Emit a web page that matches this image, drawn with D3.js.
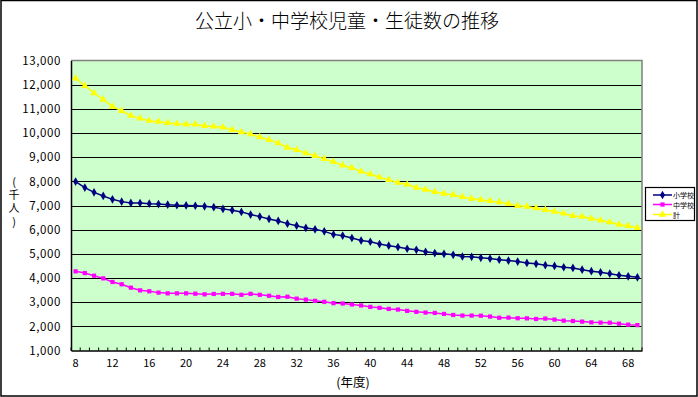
<!DOCTYPE html>
<html>
<head>
<meta charset="utf-8">
<script src="https://cdn.jsdelivr.net/npm/d3@7/dist/d3.min.js"></script>
<style>
  body { margin: 0; background: #fff; }
  svg { display: block; }
  text { font-family: "Noto Sans CJK JP", "Noto Sans", sans-serif; }
</style>
</head>
<body>
<div id="chart"></div>
<script>
// 年度 8..69
const years = d3.range(8, 70);
const xTickLabels = [8, 12, 16, 20, 24, 28, 32, 36, 40, 44, 48, 52, 56, 60, 64, 68];
const yTicks = [1000, 2000, 3000, 4000, 5000, 6000, 7000, 8000, 9000, 10000, 11000, 12000, 13000];

const elementary = [
    7990, 7740, 7545, 7395, 7255, 7160, 7105, 7100, 7075, 7060, 7035, 7010, 7005, 6990, 6965, 6930,
    6860, 6805, 6735, 6625, 6540, 6445, 6360, 6250, 6165, 6070, 6015, 5930, 5805, 5750, 5655, 5550,
    5500, 5405, 5335, 5280, 5210, 5165, 5085, 5030, 5000, 4960, 4890, 4875, 4835, 4805, 4760, 4720,
    4680, 4625, 4585, 4530, 4500, 4445, 4415, 4345, 4280, 4235, 4180, 4110, 4070, 4030
];
const juniorHigh = [
    4275, 4205, 4095, 3985, 3835, 3740, 3600, 3490, 3450, 3395, 3365, 3365, 3365, 3350, 3325, 3340,
    3345, 3345, 3305, 3345, 3305, 3265, 3215, 3225, 3145, 3105, 3055, 3015, 2960, 2945, 2905, 2865,
    2805, 2765, 2720, 2695, 2640, 2600, 2570, 2555, 2515, 2470, 2445, 2445, 2440, 2405, 2355, 2360,
    2335, 2330, 2305, 2320, 2280, 2235, 2220, 2195, 2165, 2155, 2150, 2110, 2070, 2050
];
const total = [
    12260, 11955, 11655, 11380, 11090, 10920, 10715, 10605, 10510, 10470, 10425, 10385, 10355, 10355, 10300, 10270,
    10235, 10135, 10040, 9955, 9830, 9720, 9580, 9400, 9305, 9165, 9055, 8930, 8805, 8665, 8555, 8410,
    8295, 8170, 8060, 7950, 7870, 7745, 7660, 7565, 7495, 7440, 7355, 7290, 7235, 7190, 7140, 7070,
    6985, 6955, 6890, 6820, 6750, 6670, 6570, 6545, 6460, 6390, 6310, 6210, 6155, 6075
];

const seriesNames = ['小学校', '中学校', '計'];
const seriesColors = ['#000080', '#FF00FF', '#FFFF00'];
const seriesSymbols = [d3.symbolDiamond, d3.symbolSquare, d3.symbolTriangle];
const seriesValues = [elementary, juniorHigh, total];

const W = 698, H = 397;
const plot = { left: 71, top: 60.5, right: 642, bottom: 350.5 };

const svg = d3.select('#chart').append('svg')
    .attr('width', W)
    .attr('height', H);

// outer frame
svg.append('rect')
    .attr('x', 1).attr('y', 0.5)
    .attr('width', W - 2).attr('height', H - 1.5)
    .attr('fill', '#fff')
    .attr('stroke', '#000')
    .attr('stroke-width', 1.5);

const x = d3.scaleBand()
    .domain(years)
    .range([plot.left, plot.right])
    .padding(0);

const y = d3.scaleLinear()
    .domain([1000, 13000])
    .range([plot.bottom, plot.top]);

// plot background
svg.append('rect')
    .attr('x', plot.left).attr('y', plot.top)
    .attr('width', plot.right - plot.left)
    .attr('height', plot.bottom - plot.top)
    .attr('fill', '#CCFFCC');

// gridlines
svg.append('g')
    .selectAll('line')
    .data(yTicks.filter(d => d > 1000 && d < 13000))
    .join('line')
    .attr('x1', plot.left).attr('x2', plot.right)
    .attr('y1', d => Math.round(y(d)) + 0.5)
    .attr('y2', d => Math.round(y(d)) + 0.5)
    .attr('stroke', '#000')
    .attr('stroke-width', 1.2);

// top / right border of plot area
svg.append('path')
    .attr('d', `M${plot.left},${plot.top}H${plot.right}V${plot.bottom}`)
    .attr('fill', 'none')
    .attr('stroke', '#808080')
    .attr('stroke-width', 1.5);

// Y axis
const yAxis = svg.append('g')
    .attr('transform', `translate(${plot.left},0)`)
    .call(d3.axisLeft(y).tickValues(yTicks).tickFormat(d3.format(',')).tickSize(0).tickPadding(10));
yAxis.select('.domain').attr('stroke', '#000').attr('stroke-width', 1.5);
yAxis.selectAll('text')
    .attr('fill', '#000')
    .attr('font-size', 11.5)
    .style('letter-spacing', '0.6px');

// X axis
const xAxis = svg.append('g')
    .attr('transform', `translate(0,${plot.bottom})`)
    .call(d3.axisBottom(x)
        .tickValues(xTickLabels)
        .tickSize(0)
        .tickPadding(9));
xAxis.select('.domain').attr('stroke', '#000').attr('stroke-width', 1.5);
xAxis.selectAll('text')
    .attr('fill', '#000')
    .attr('font-size', 11);

// category tick marks (inside)
svg.append('g')
    .selectAll('line')
    .data(years.concat([70]))
    .join('line')
    .attr('x1', d => (d === 70 ? plot.right : x(d)))
    .attr('x2', d => (d === 70 ? plot.right : x(d)))
    .attr('y1', plot.bottom)
    .attr('y2', plot.bottom - 3)
    .attr('stroke', '#000');

// series
const line = d3.line()
    .x((d, i) => x(years[i]) + x.bandwidth() / 2)
    .y(d => y(d));

const markerSize = [22, 18, 24];

seriesValues.forEach((values, s) => {
    svg.append('path')
        .datum(values)
        .attr('fill', 'none')
        .attr('stroke', seriesColors[s])
        .attr('stroke-width', 1.5)
        .attr('d', line);

    svg.append('g')
        .selectAll('path')
        .data(values)
        .join('path')
        .attr('transform', (d, i) => `translate(${x(years[i]) + x.bandwidth() / 2},${y(d)})`)
        .attr('d', d3.symbol().type(seriesSymbols[s]).size(markerSize[s]))
        .attr('fill', seriesColors[s]);
});

// title
svg.append('text')
    .attr('x', 347).attr('y', 28)
    .attr('text-anchor', 'middle')
    .attr('font-size', 19)
    .attr('font-weight', 300)
    .attr('fill', '#000')
    .text('公立小・中学校児童・生徒数の推移');

// x axis title
svg.append('text')
    .attr('x', 353).attr('y', 387)
    .attr('text-anchor', 'middle')
    .attr('font-size', 12.5)
    .attr('fill', '#000')
    .text('(年度)');

// y axis title, written vertically
svg.append('text')
    .attr('x', 14)
    .attr('y', 176)
    .attr('font-size', 11)
    .attr('fill', '#000')
    .style('writing-mode', 'vertical-rl')
    .style('text-orientation', 'upright')
    .style('letter-spacing', '2.3px')
    .text('(千人)');

// legend
const legend = svg.append('g');
legend.append('rect')
    .attr('x', 645.5).attr('y', 187.5)
    .attr('width', 49).attr('height', 33)
    .attr('fill', '#fff')
    .attr('stroke', '#000')
    .attr('stroke-width', 1.2);

const legendRows = [195, 204.5, 214.5];
seriesNames.forEach((name, s) => {
    const ly = legendRows[s];
    legend.append('line')
        .attr('x1', 653).attr('x2', 672)
        .attr('y1', ly).attr('y2', ly)
        .attr('stroke', seriesColors[s])
        .attr('stroke-width', 1.5);
    legend.append('path')
        .attr('transform', `translate(662.5,${ly})`)
        .attr('d', d3.symbol().type(seriesSymbols[s]).size(markerSize[s]))
        .attr('fill', seriesColors[s]);
    legend.append('text')
        .attr('x', 673).attr('y', ly + 3)
        .attr('font-size', 7)
        .attr('fill', '#000')
        .text(name);
});
</script>
</body>
</html>
